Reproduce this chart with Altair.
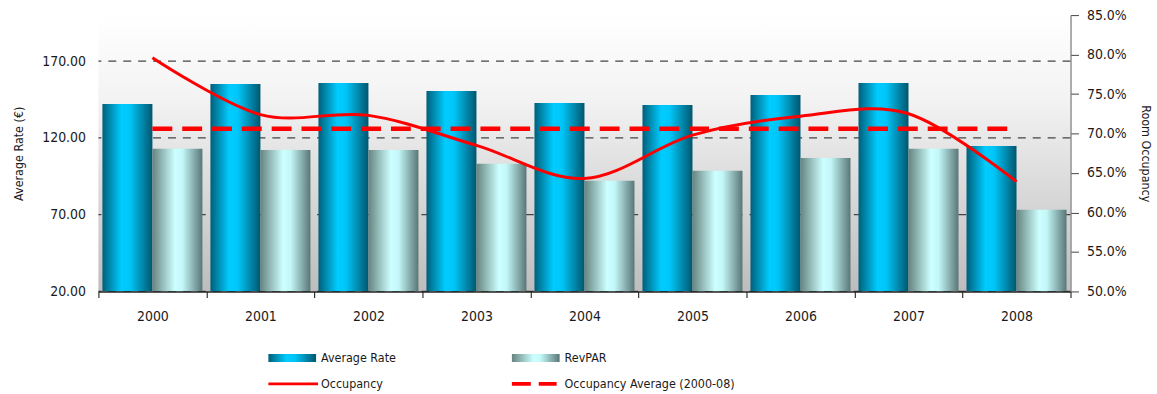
import altair as alt
import pandas as pd

# ---- data ----
years = ["2000", "2001", "2002", "2003", "2004", "2005", "2006", "2007", "2008"]
average_rate = [142.1, 155.1, 155.7, 150.5, 142.7, 141.4, 147.9, 155.7, 114.8]
revpar = [112.9, 112.2, 112.2, 103.1, 92.1, 98.6, 107.0, 112.9, 73.2]
occupancy = [0.796, 0.724, 0.723, 0.685, 0.643, 0.698, 0.722, 0.725, 0.639]
rate_ticks = [20, 70, 120, 170]
occ_ticks = [0.50, 0.55, 0.60, 0.65, 0.70, 0.75, 0.80, 0.85]
series_names = ["Average Rate", "RevPAR"]
legend_labels = ["Average Rate", "RevPAR", "Occupancy", "Occupancy Average (2000-08)"]
legend_cols = [0, 1, 0, 1]
legend_rows = [0, 0, 1, 1]

FONT = "DejaVu Sans Condensed, Liberation Sans Narrow, Arial Narrow, Liberation Sans, sans-serif"

bars_df = pd.DataFrame({
    "year": years * 2,
    "series": [series_names[0]] * len(years) + [series_names[1]] * len(years),
    "value": average_rate + revpar,
})
occ_df = pd.DataFrame({"year": years, "occ": occupancy})
grid_df = pd.DataFrame({"tick": rate_ticks})
bg_df = pd.DataFrame({"k": [0]})
legend_df = pd.DataFrame({"label": legend_labels, "col": legend_cols, "row": legend_rows})


def grad_h(stops):
    return alt.Gradient(
        gradient="linear", x1=0, x2=1, y1=0, y2=0,
        stops=[alt.GradientStop(offset=o, color=c) for o, c in stops],
    )


grad_ar = grad_h([(0, "#005f7a"), (0.38, "#00ccff"), (0.55, "#00c6f8"), (1, "#00566e")])
grad_rp = grad_h([(0, "#66847f"), (0.45, "#ccffff"), (0.6, "#c4f8f8"), (1, "#5a7676")])
grad_bg = alt.Gradient(
    gradient="linear", x1=0, x2=0, y1=0, y2=1,
    stops=[alt.GradientStop(offset=0, color="#ffffff"),
           alt.GradientStop(offset=0.3, color="#f3f3f3"),
           alt.GradientStop(offset=1, color="#bdbdbd")],
)

x_axis = alt.Axis(
    title=None, labelAngle=0, tickBand="extent", domainColor="#222", domainWidth=1.5,
    tickColor="#333", tickWidth=1.2, tickSize=6, labelPadding=12, labelFontSize=14,
    labelColor="#1a1a1a", grid=False, zindex=1,
)
x_enc = alt.X("year:N", sort=years, scale=alt.Scale(paddingInner=0, paddingOuter=0), axis=x_axis)

rate_scale = alt.Scale(domain=[20, 200], nice=False, zero=False)
rate_axis = alt.Axis(
    values=rate_ticks, format=".2f", title="Average Rate (€)", grid=False, domain=False,
    ticks=False, tickSize=0, labelPadding=13, labelAlign="right", labelFontSize=14,
    labelColor="#1a1a1a", titleFontSize=12.5, titleColor="#1a1a1a", titlePadding=16, offset=0,
)

occ_scale = alt.Scale(domain=[0.5, 0.85], nice=False, zero=False)
occ_axis = alt.Axis(
    orient="right", values=occ_ticks, format=".1%", title="Room Occupancy", grid=False,
    domainColor="#777", domainWidth=1.2, tickColor="#444", tickSize=8, labelPadding=8,
    labelFontSize=14, labelColor="#1a1a1a", titleFontSize=12.5, titleColor="#1a1a1a",
    titlePadding=12, zindex=1,
)

background = alt.Chart(bg_df).mark_rect(fill=grad_bg).encode(
    x=alt.value(0), x2=alt.value("width"), y=alt.value(0), y2=alt.value("height")
)
gridlines = alt.Chart(grid_df).mark_rule(color="#444", strokeWidth=1.3, strokeDash=[8, 7]).encode(
    y=alt.Y("tick:Q", scale=rate_scale, axis=rate_axis)
)

bar_base = alt.Chart(bars_df).encode(
    x=x_enc,
    y=alt.Y("value:Q", scale=rate_scale, axis=rate_axis),
    y2=alt.datum(rate_ticks[0]),
    xOffset=alt.XOffset("series:N", sort=series_names,
                        scale=alt.Scale(domain=series_names, paddingInner=0, paddingOuter=0.08)),
)
ar_bars = bar_base.transform_filter(alt.datum.series == series_names[0]).mark_bar(fill=grad_ar, clip=True)
rp_bars = bar_base.transform_filter(alt.datum.series == series_names[1]).mark_bar(fill=grad_rp, clip=True)

left_group = alt.layer(background, gridlines, ar_bars, rp_bars)

occ_line = alt.Chart(occ_df).mark_line(color="#ff0000", strokeWidth=3, interpolate="cardinal").encode(
    x=x_enc, y=alt.Y("occ:Q", scale=occ_scale, axis=occ_axis)
)
avg_line = alt.Chart(occ_df).transform_joinaggregate(avg="mean(occ)").mark_line(
    color="#ff0000", strokeWidth=4.5, strokeDash=[20, 10]
).encode(x=x_enc, y=alt.Y("avg:Q", scale=occ_scale, axis=occ_axis))

right_group = alt.layer(avg_line, occ_line)

main = alt.layer(left_group, right_group).resolve_scale(y="independent").properties(
    width=978, height=278
)

# ---- legend panel ----
lx = alt.X("col:Q", scale=alt.Scale(domain=[0, 1], range=[171, 416]), axis=None)
lx2 = alt.X2("col")
ly = alt.Y("row:Q", scale=alt.Scale(domain=[0, 1], range=[9, 35]), axis=None)
ly2 = alt.Y2("row")
lbase = alt.Chart(legend_df)

leg_ar = lbase.transform_filter(alt.datum.label == legend_labels[0]).mark_rect(
    fill=grad_ar, x2Offset=48, yOffset=-4, y2Offset=4
).encode(x=lx, x2=lx2, y=ly, y2=ly2)
leg_rp = lbase.transform_filter(alt.datum.label == legend_labels[1]).mark_rect(
    fill=grad_rp, x2Offset=48, yOffset=-4, y2Offset=4
).encode(x=lx, x2=lx2, y=ly, y2=ly2)
leg_occ = lbase.transform_filter(alt.datum.label == legend_labels[2]).mark_rule(
    color="#ff0000", strokeWidth=3, x2Offset=50
).encode(x=lx, x2=lx2, y=ly)
leg_avg = lbase.transform_filter(alt.datum.label == legend_labels[3]).mark_rule(
    color="#ff0000", strokeWidth=4, strokeDash=[19, 8], x2Offset=45
).encode(x=lx, x2=lx2, y=ly)
leg_text = lbase.mark_text(align="left", baseline="middle", dx=53, fontSize=12.5, color="#1a1a1a").encode(
    x=lx, y=ly, text="label:N"
)

legend = alt.layer(leg_ar, leg_rp, leg_occ, leg_avg, leg_text).properties(width=978, height=38)

chart = alt.vconcat(main, legend, spacing=58, bounds="flush").properties(
    padding={"left": 12, "top": 7, "right": 5, "bottom": 4}
).configure(font=FONT).configure_view(strokeWidth=0).configure_axis(
    labelFont=FONT, titleFont=FONT, titleFontWeight="normal"
)

chart.save("out.html", embed_options={"renderer": "svg", "actions": False})
